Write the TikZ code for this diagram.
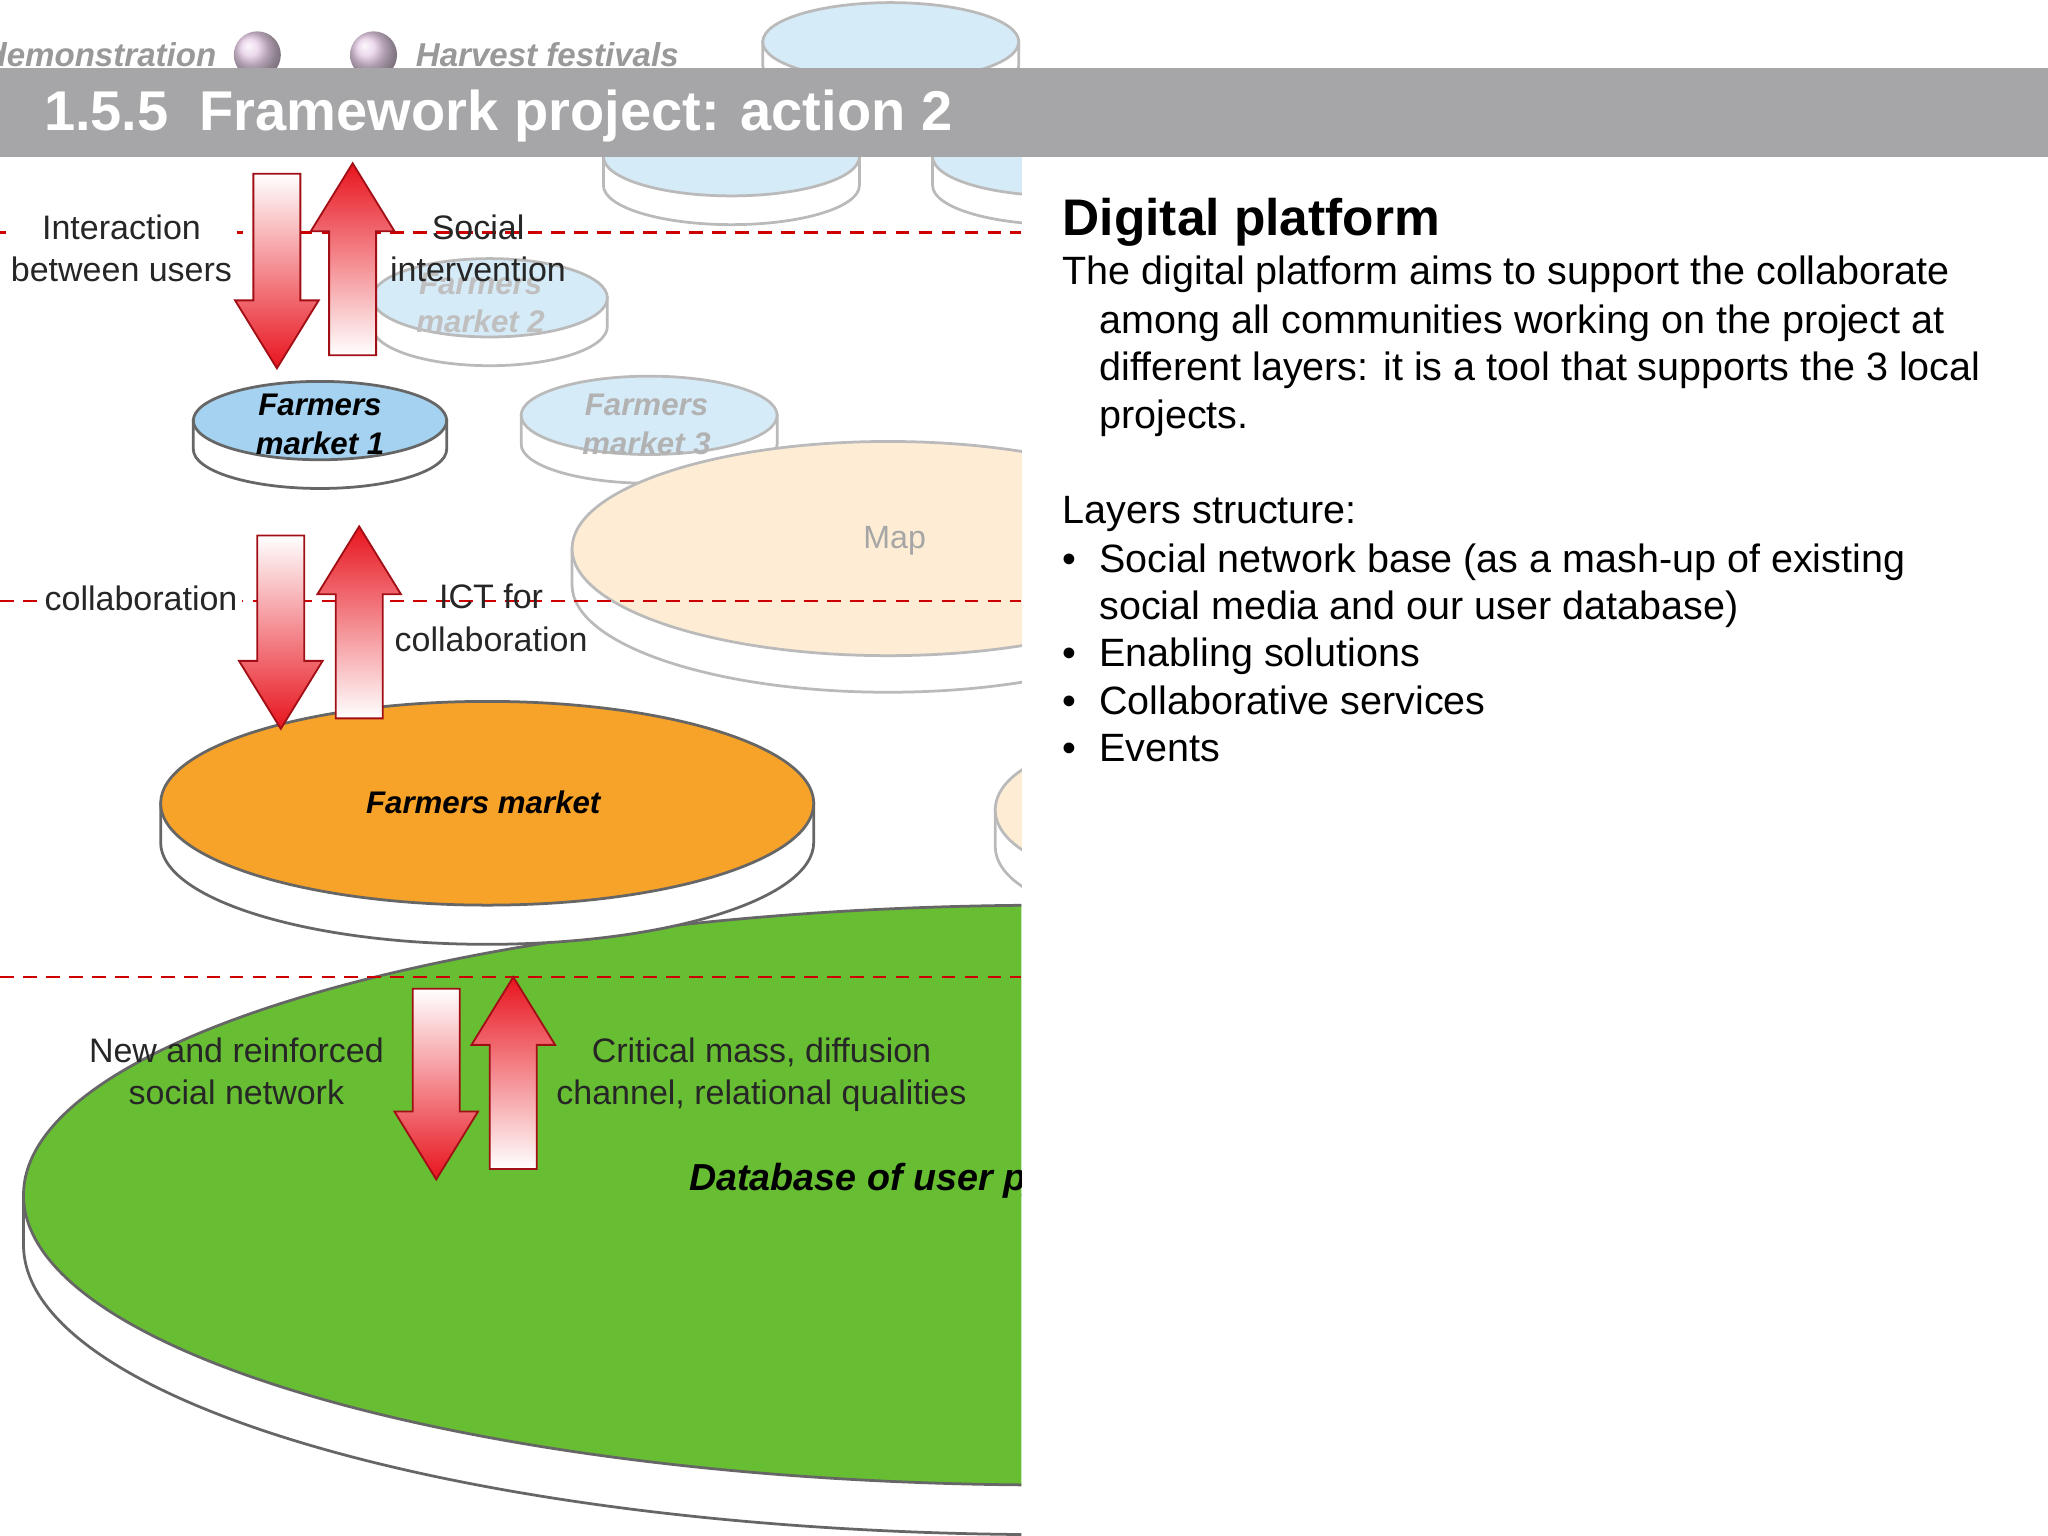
\documentclass[tikz,border=0pt]{standalone}
\usepackage{fontspec}
\setmainfont{Liberation Sans}
\begin{document}
\begin{tikzpicture}[x=0.01cm,y=-0.01cm,
  lbl/.style={font=\fontsize{7.4}{9.2}\selectfont,align=center,text=black!85},
  dlbl/.style={font=\fontsize{6.8}{8.4}\selectfont\bfseries\itshape,align=center},
  body/.style={anchor=base west,font=\fontsize{8.6}{10}\selectfont,inner sep=0},
  redline/.style={red!80!black,densely dashed,line width=0.5pt}]
\definecolor{bar}{RGB}{166,166,168}
\definecolor{lblue}{RGB}{165,210,240}
\definecolor{orng}{RGB}{247,162,40}
\definecolor{lorng}{RGB}{252,214,160}
\definecolor{grn}{RGB}{104,190,50}
\definecolor{ared}{RGB}{232,20,30}
\useasboundingbox (0,0) rectangle (1568,1176);
\newcommand\mydisk[6]{%
 \filldraw[fill=white,draw=black!60,line width=0.6pt] (#1-#3,#2) -- (#1-#3,#2+#5) arc[start angle=180,end angle=0,x radius=#3,y radius=#4] -- (#1+#3,#2) -- cycle;
 \filldraw[fill=#6,draw=black!60,line width=0.6pt] (#1,#2) ellipse[x radius=#3,y radius=#4];}
\newcommand\myddown[3]{% x, top, bottom
 \shade[top color=white,bottom color=ared,draw=ared!70!black,line width=0.4pt]
 (#1-18,#2) -- (#1+18,#2) -- (#1+18,#3-52) -- (#1+32,#3-52) -- (#1,#3) -- (#1-32,#3-52) -- (#1-18,#3-52) -- cycle;}
\newcommand\mydup[3]{%
 \shade[top color=ared,bottom color=white,draw=ared!70!black,line width=0.4pt]
 (#1-18,#3) -- (#1+18,#3) -- (#1+18,#2+52) -- (#1+32,#2+52) -- (#1,#2) -- (#1-32,#2+52) -- (#1-18,#2+52) -- cycle;}
\begin{scope}
\clip (0,0) rectangle (782,1176);
\node[anchor=east,font=\fontsize{7.2}{8}\selectfont\bfseries\itshape,text=black!40] (demo) at (178,42) {demonstration};
\shade[ball color=violet!25,opacity=0.8] (197,42) circle (18);
\shade[ball color=violet!25,opacity=0.8] (286,42) circle (18);
\node[anchor=west,font=\fontsize{7.2}{8}\selectfont\bfseries\itshape,text=black!40] (harv) at (306,42) {Harvest festivals};
\begin{scope}[transparency group,opacity=0.45]
\mydisk{682}{32}{98}{30}{18}{lblue}
\mydisk{560}{120}{98}{30}{22}{lblue}
\mydisk{812}{120}{98}{30}{22}{lblue}
\mydisk{375}{228}{90}{30}{22}{lblue}
\mydisk{497}{318}{98}{30}{22}{lblue}
\mydisk{680}{420}{242}{82}{28}{lorng}
\mydisk{860}{620}{98}{50}{28}{lorng}
\end{scope}
\node[dlbl,text=black!25] (fm2) at (368,232) {Farmers\\market 2};
\node[dlbl,text=white!70!black] (fm3) at (495,325) {Farmers\\market 3};
\node[font=\fontsize{7}{8}\selectfont,text=black!35] (map) at (685,414) {Map};
\mydisk{808}{915}{790}{222}{38}{grn}
\mydisk{373}{615}{250}{78}{30}{orng}
\node[dlbl] (fm) at (370,614) {Farmers market};
\mydisk{245}{322}{97}{30}{22}{lblue}
\node[dlbl] (fm1) at (245,325) {Farmers\\market 1};
\draw[redline] (0,178) -- (782,178);
\draw[redline] (0,460) -- (782,460);
\draw[redline] (0,748) -- (782,748);
\node[lbl,fill=white,inner sep=1pt] (l1) at (93,190) {Interaction\\between users};
\node[lbl] (l2) at (366,190) {Social\\intervention};
\node[lbl,fill=white,inner sep=1pt] (l3) at (108,458) {collaboration};
\node[lbl] (l4) at (376,473) {ICT for\\collaboration};
\node[lbl] (l5) at (181,820) {New and reinforced\\social network};
\node[lbl] (l6) at (583,823) {Critical mass, diffusion\\channel, relational qualities};
\node[anchor=west,inner sep=0,font=\fontsize{8.2}{9}\selectfont\bfseries\itshape] (db) at (527,904) {Database of user profiles};
\myddown{212}{133}{282}
\mydup{270}{125}{272}
\myddown{215}{410}{558}
\mydup{275}{403}{550}
\myddown{334}{757}{903}
\mydup{393}{748}{895}
\end{scope}
\fill[bar] (0,52) rectangle (1568,120);
\node[anchor=base west,inner sep=0,text=white,font=\fontsize{12.2}{14}\selectfont\bfseries] (title) at (33,100) {1.5.5\ \ Framework project: action 2};
\node[anchor=base west,inner sep=0,font=\fontsize{11.2}{13}\selectfont\bfseries] (dp) at (813,180) {Digital platform};
\node[body] (t1) at (813,218) {The digital platform aims to support the collaborate};
\node[body] (t2) at (841,255) {among all communities working on the project at};
\node[body] (t3) at (841,291) {different layers: it is a tool that supports the 3 local};
\node[body] (t4) at (841,328) {projects.};
\node[body] (t5) at (813,401) {Layers structure:};
\node[body] (b1) at (813,438) {\textbullet};
\node[body] (t6) at (841,438) {Social network base (as a mash-up of existing};
\node[body] (t7) at (841,474) {social media and our user database)};
\node[body] (b2) at (813,510) {\textbullet};
\node[body] (t8) at (841,510) {Enabling solutions};
\node[body] (b3) at (813,547) {\textbullet};
\node[body] (t9) at (841,547) {Collaborative services};
\node[body] (b4) at (813,583) {\textbullet};
\node[body] (t10) at (841,583) {Events};
\end{tikzpicture}
\end{document}
